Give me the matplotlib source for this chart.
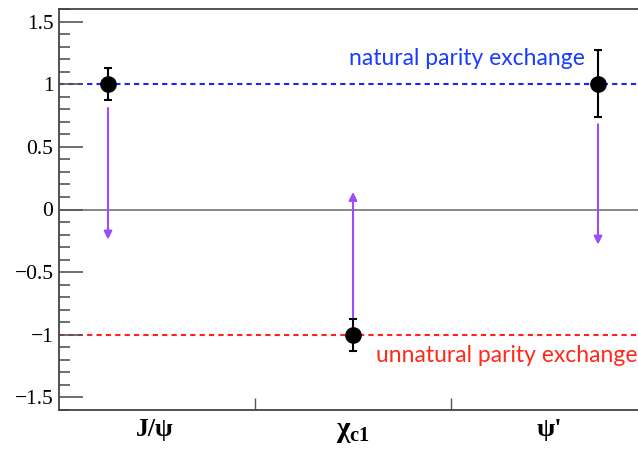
import matplotlib.pyplot as plt
from matplotlib.ticker import MultipleLocator, FixedLocator

plt.rcParams['font.family'] = ['Liberation Serif', 'DejaVu Serif']
plt.rcParams['mathtext.fontset'] = 'custom'
plt.rcParams['mathtext.rm'] = 'Liberation Serif'
plt.rcParams['mathtext.it'] = 'Liberation Serif'
plt.rcParams['mathtext.bf'] = 'Liberation Serif:bold'

# data
labels = ['J/\u03c8', r'$\mathbf{\chi_{c1}}$', "\u03c8'"]
label_x = [1.19, 2.0, 2.8]
label_size = [18.5, 21, 19]
xpos = [1, 2, 3]
values = [1.0, -1.0, 1.0]
err_up = [0.13, 0.13, 0.27]
err_down = [0.13, 0.13, 0.26]
arrow_start = [0.81, -0.86, 0.68]
arrow_end = [-0.24, 0.14, -0.28]
separators = [1.6, 2.4]

fig = plt.figure(figsize=(6.38, 4.59), dpi=100)
ax = fig.add_axes([59/638, 49/459, 1.05, 401/459])

ax.set_xlim(0.8, 0.8 + 1.05*638/245)
ax.set_ylim(-1.6, 1.6)

ax.axhline(0, color='#888888', lw=1.4, zorder=1)
ax.axhline(1, color='#2020ff', lw=1.5, ls=(0, (2.5, 2)), zorder=1)
ax.axhline(-1, color='#ff2020', lw=1.5, ls=(0, (2.5, 2)), zorder=1)

for x0, y0, y1 in zip(xpos, arrow_start, arrow_end):
    ax.annotate('', xy=(x0, y1), xytext=(x0, y0),
                arrowprops=dict(arrowstyle='-|>', color='#9a4dff', lw=1.5,
                                mutation_scale=12, shrinkA=0, shrinkB=0))

ax.errorbar(xpos, values, yerr=[err_down, err_up], fmt='o', color='black',
            ms=11, capsize=3, elinewidth=1.5, capthick=1.5, zorder=5)

ax.text(3 - 13/245, 1.12, 'natural parity exchange', color='#1a3cff',
        family='Lato', fontsize=16.5, ha='right', va='bottom')
ax.text(2 + 23/245, -1.08, 'unnatural parity exchange', color='#ff2a1a',
        family='Lato', fontsize=16.5, ha='left', va='top')

ax.yaxis.set_major_locator(MultipleLocator(0.5))
ax.yaxis.set_minor_locator(MultipleLocator(0.1))
ax.xaxis.set_major_locator(FixedLocator(separators))
ax.set_xticklabels([])
ax.yaxis.set_major_formatter(plt.FuncFormatter(
    lambda v, p: ('%g' % v).replace('-', '\u2212')))
ax.tick_params(axis='y', which='major', direction='in', length=17, width=1.2,
               color='#555555', labelsize=15.5, pad=4,
               labelfontfamily='Liberation Serif')
ax.tick_params(axis='y', which='minor', direction='in', length=8, width=1.2,
               color='#555555')
ax.tick_params(axis='x', which='major', direction='in', length=9, width=1.0,
               color='#555555')

for s in ax.spines.values():
    s.set_color('#444444')
    s.set_linewidth(1.3)
ax.spines['right'].set_visible(False)

for x0, lab, fs in zip(label_x, labels, label_size):
    ax.text(x0, -1.66, lab, ha='center', va='top', fontsize=fs,
            fontweight='bold')

fig.savefig('out.png', dpi=100)
